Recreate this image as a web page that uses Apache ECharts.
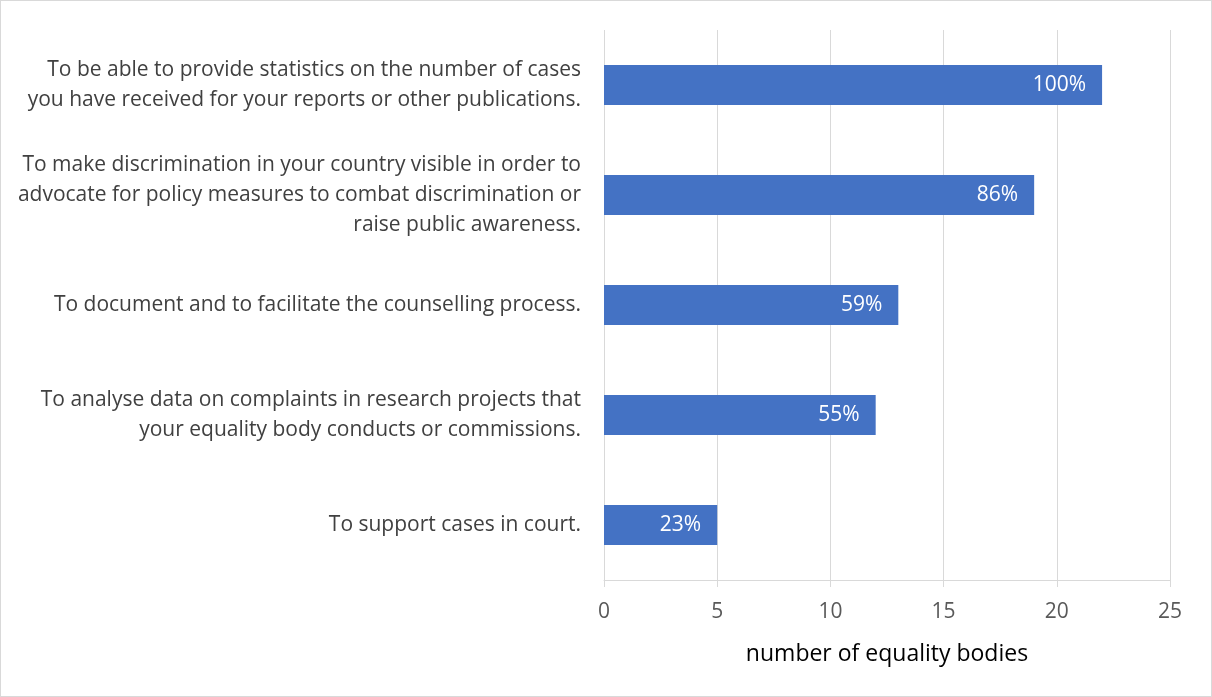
<!DOCTYPE html>
<html>
<head>
<meta charset="utf-8">
<script src="https://cdn.jsdelivr.net/npm/echarts@6/dist/echarts.min.js"></script>
<style>
html,body{margin:0;padding:0;background:#fff;}
#wrap{position:absolute;left:0;top:0;width:1210px;height:695px;border:1px solid #d9d9d9;}
#chart{width:1210px;height:695px;}
</style>
</head>
<body>
<div id="wrap"><div id="chart"></div></div>
<script>
const categories = [
  "To be able to provide statistics on the number of cases\nyou have received for your reports or other publications.",
  "To make discrimination in your country visible in order to\nadvocate for policy measures to combat discrimination or\nraise public awareness.",
  "To document and to facilitate the counselling process.",
  "To analyse data on complaints in research projects that\nyour equality body conducts or commissions.",
  "To support cases in court."
];
const values = [22, 19, 13, 12, 5];
const percentLabels = ["100%", "86%", "59%", "55%", "23%"];
const xTicks = [0, 5, 10, 15, 20, 25];
const axisName = "number of equality bodies";

const FONT = '"Open Sans", "Noto Sans", sans-serif';
const chart = echarts.init(document.getElementById('chart'), null, {renderer: 'canvas'});
chart.setOption({
  animation: false,
  backgroundColor: '#fff',
  grid: {left: 603, right: 41, top: 29, bottom: 116, containLabel: false},
  xAxis: {
    type: 'value', min: xTicks[0], max: xTicks[xTicks.length - 1], interval: 5,
    name: axisName, nameLocation: 'middle', nameGap: 63,
    nameTextStyle: {color: '#000', fontSize: 23, fontFamily: FONT},
    axisLine: {show: true, lineStyle: {color: '#d9d9d9', width: 1}},
    axisTick: {show: true, length: 7, lineStyle: {color: '#d9d9d9'}},
    axisLabel: {color: '#595959', fontSize: 21, fontFamily: FONT, margin: 22},
    splitLine: {show: true, lineStyle: {color: '#d9d9d9', width: 1}}
  },
  yAxis: {
    type: 'category', data: categories, inverse: true,
    axisLine: {show: false}, axisTick: {show: false},
    axisLabel: {color: '#404040', fontSize: 21, fontFamily: FONT, margin: 23, lineHeight: 30, align: 'right'}
  },
  series: [{
    type: 'bar', data: values, barWidth: 40,
    itemStyle: {color: '#4472C4'},
    label: {
      show: true, position: 'insideRight', distance: 16,
      color: '#fff', fontSize: 21, fontFamily: FONT,
      formatter: p => percentLabels[p.dataIndex]
    }
  }]
});
</script>
</body>
</html>
